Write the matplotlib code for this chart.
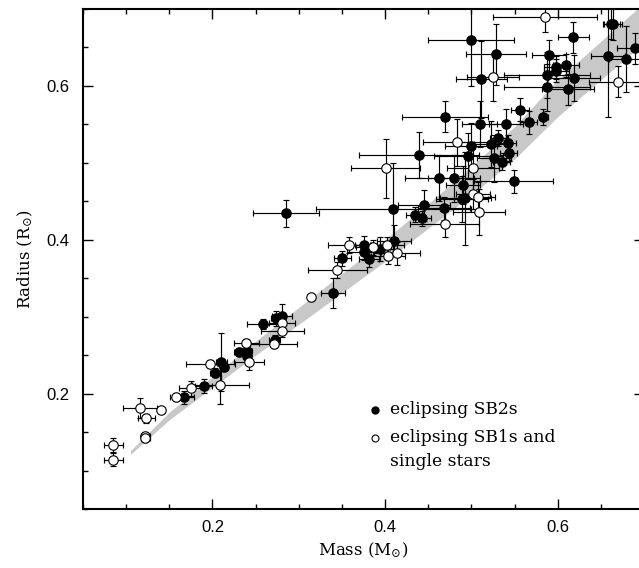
import matplotlib
matplotlib.use("Agg")
import matplotlib.pyplot as plt
import numpy as np

# eclipsing SB2s (filled): mass, radius, mass err, radius err
sb2_mass = [0.167, 0.190, 0.2027, 0.2104, 0.2135, 0.2305, 0.240, 0.240, 0.272, 0.2586,
            0.274, 0.2807, 0.3398, 0.3506, 0.3757, 0.3757, 0.3815, 0.3939, 0.4104, 0.285,
            0.4097, 0.4394, 0.4344, 0.4429, 0.4449, 0.4684, 0.4626, 0.480, 0.4904, 0.4892,
            0.4931, 0.4966, 0.5263, 0.4993, 0.5286, 0.5117, 0.618, 0.5897, 0.5986, 0.5986,
            0.610, 0.5877, 0.6187, 0.5877, 0.6117, 0.5835, 0.5564, 0.5665, 0.5399, 0.5097,
            0.4695, 0.4993, 0.5225, 0.5314, 0.5422, 0.5433, 0.5349, 0.549, 0.6584, 0.662,
            0.664, 0.679, 0.689]
sb2_radius = [0.195, 0.210, 0.227, 0.241, 0.234, 0.254, 0.255, 0.249, 0.270, 0.2905,
              0.298, 0.3005, 0.3304, 0.3758, 0.393, 0.3836, 0.375, 0.388, 0.3987, 0.4343,
              0.440, 0.510, 0.4325, 0.4278, 0.445, 0.4408, 0.480, 0.4797, 0.471, 0.4529,
              0.4538, 0.509, 0.5057, 0.6597, 0.641, 0.6087, 0.663, 0.640, 0.624, 0.620,
              0.627, 0.614, 0.610, 0.598, 0.5957, 0.5597, 0.5688, 0.5525, 0.550, 0.550,
              0.560, 0.5213, 0.525, 0.5325, 0.526, 0.513, 0.5005, 0.476, 0.639, 0.681,
              0.680, 0.6347, 0.649]
sb2_merr = [0.012, 0.010, 0.006, 0.006, 0.005, 0.005, 0.006, 0.005, 0.006, 0.019,
            0.006, 0.012, 0.0135, 0.010, 0.010, 0.020, 0.012, 0.015, 0.020, 0.038,
            0.090, 0.070, 0.010, 0.010, 0.030, 0.030, 0.040, 0.030, 0.020, 0.030,
            0.030, 0.040, 0.020, 0.050, 0.035, 0.030, 0.018, 0.020, 0.015, 0.015,
            0.015, 0.050, 0.030, 0.050, 0.030, 0.005, 0.010, 0.010, 0.020, 0.020,
            0.050, 0.030, 0.020, 0.010, 0.010, 0.010, 0.010, 0.046, 0.020, 0.010,
            0.010, 0.020, 0.020]
sb2_rerr = [0.009, 0.009, 0.006, 0.038, 0.005, 0.005, 0.006, 0.005, 0.006, 0.006,
            0.010, 0.016, 0.0195, 0.010, 0.012, 0.010, 0.010, 0.015, 0.020, 0.018,
            0.060, 0.030, 0.010, 0.010, 0.020, 0.015, 0.030, 0.030, 0.025, 0.030,
            0.060, 0.030, 0.030, 0.060, 0.040, 0.050, 0.020, 0.020, 0.015, 0.015,
            0.015, 0.030, 0.030, 0.030, 0.020, 0.010, 0.015, 0.015, 0.020, 0.030,
            0.020, 0.030, 0.030, 0.010, 0.010, 0.010, 0.010, 0.015, 0.080, 0.020,
            0.020, 0.043, 0.020]

# eclipsing SB1s and single stars (open)
sb1_mass = [0.0848, 0.0848, 0.1158, 0.1409, 0.1235, 0.1224, 0.1224, 0.158, 0.1757, 0.2089,
            0.1977, 0.2424, 0.2394, 0.271, 0.2807, 0.2807, 0.3147, 0.3448, 0.3583, 0.3861,
            0.4023, 0.4035, 0.4136, 0.4008, 0.4692, 0.5086, 0.502, 0.502, 0.5078, 0.5251,
            0.5854, 0.6697, 0.4835]
sb1_radius = [0.1334, 0.1143, 0.1814, 0.179, 0.168, 0.1455, 0.142, 0.196, 0.207, 0.211,
              0.2386, 0.2408, 0.2654, 0.264, 0.2918, 0.2818, 0.325, 0.3606, 0.393, 0.390,
              0.393, 0.379, 0.3827, 0.4927, 0.4204, 0.4356, 0.4927, 0.4594, 0.455, 0.611,
              0.690, 0.6057, 0.5265]
sb1_merr = [0.011, 0.011, 0.020, 0.0, 0.010, 0.005, 0.005, 0.007, 0.015, 0.033,
            0.028, 0.017, 0.015, 0.027, 0.015, 0.025, 0.0, 0.034, 0.025, 0.020,
            0.020, 0.020, 0.027, 0.040, 0.040, 0.030, 0.030, 0.020, 0.020, 0.030,
            0.060, 0.033, 0.040]
sb1_rerr = [0.009, 0.009, 0.0125, 0.0, 0.006, 0.005, 0.005, 0.005, 0.010, 0.025,
            0.005, 0.010, 0.006, 0.005, 0.008, 0.008, 0.0, 0.010, 0.010, 0.010,
            0.010, 0.010, 0.015, 0.038, 0.017, 0.030, 0.030, 0.020, 0.020, 0.030,
            0.020, 0.020, 0.030]

# model band
band_mass = [0.105, 0.15, 0.2, 0.25, 0.3, 0.35, 0.4, 0.45, 0.5, 0.55, 0.6, 0.65, 0.7]
band_upper = [0.126, 0.176, 0.222, 0.268, 0.312, 0.356, 0.400, 0.447, 0.495, 0.547, 0.608, 0.658, 0.708]
band_lower = [0.121, 0.166, 0.208, 0.250, 0.290, 0.331, 0.372, 0.415, 0.458, 0.505, 0.560, 0.608, 0.656]

plt.rcParams['mathtext.fontset'] = 'dejavuserif'

fig = plt.figure(figsize=(6.39, 5.68), dpi=100)
ax = fig.add_axes([83/639, 59/568, 561/639, 500/568])

ax.fill_between(band_mass, band_lower, band_upper, color='#c8c8c8', lw=0, zorder=1)

ekw = dict(fmt='none', ecolor='black', elinewidth=0.85, capsize=2.0, capthick=0.85, zorder=2)
ax.errorbar(sb2_mass, sb2_radius, xerr=sb2_merr, yerr=sb2_rerr, **ekw)
ax.errorbar(sb1_mass, sb1_radius, xerr=sb1_merr, yerr=sb1_rerr, **ekw)

ax.plot(sb2_mass, sb2_radius, 'o', ms=6.8, mfc='black', mec='black', mew=0.8, zorder=3)
ax.plot(sb1_mass, sb1_radius, 'o', ms=6.8, mfc='white', mec='black', mew=0.8, zorder=4)

ax.set_xlim(0.05, 0.70)
ax.set_ylim(0.05, 0.70)
ax.set_xticks([0.2, 0.4, 0.6])
ax.set_yticks([0.2, 0.4, 0.6])
ax.set_xticks(np.arange(0.05, 0.701, 0.05), minor=True)
ax.set_yticks(np.arange(0.05, 0.701, 0.05), minor=True)
ax.tick_params(which='both', direction='in', top=True, right=True, width=1.0)
ax.tick_params(which='major', length=7)
ax.tick_params(which='minor', length=3.6)
for lab in ax.get_xticklabels() + ax.get_yticklabels():
    lab.set_family('Liberation Sans')
    lab.set_fontsize(12)
ax.tick_params(axis='x', pad=8)
ax.tick_params(axis='y', pad=10)
for sp in ax.spines.values():
    sp.set_linewidth(1.5)

ax.set_xlabel(r'Mass (M$_{\odot}$)', family='DejaVu Serif', fontsize=12, labelpad=4)
ax.set_ylabel(r'Radius (R$_{\odot}$)', family='DejaVu Serif', fontsize=12, labelpad=8)

# legend
ax.plot([0.5205], [0.198], 'o', ms=5, mfc='black', mec='black', transform=ax.transAxes, clip_on=False)
ax.plot([0.5205], [0.142], 'o', ms=5, mfc='white', mec='black', mew=0.8, transform=ax.transAxes, clip_on=False)
ax.text(0.547, 0.198, 'eclipsing SB2s', transform=ax.transAxes, family='DejaVu Serif',
        fontsize=12.3, va='center', ha='left')
ax.text(0.547, 0.142, 'eclipsing SB1s and', transform=ax.transAxes, family='DejaVu Serif',
        fontsize=12.3, va='center', ha='left')
ax.text(0.547, 0.094, 'single stars', transform=ax.transAxes, family='DejaVu Serif',
        fontsize=12.3, va='center', ha='left')

fig.savefig('out.png', dpi=100)
